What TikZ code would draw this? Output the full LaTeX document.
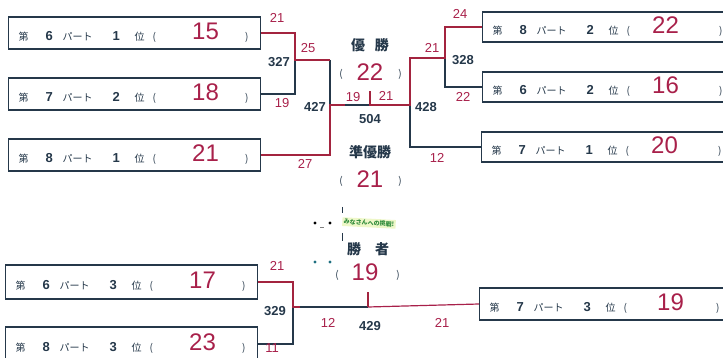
\documentclass[tikz,border=0pt]{standalone}
\usepackage{fontspec}
\newfontfamily\jp{Noto Sans CJK JP}
\newfontfamily\lab{Liberation Sans}
\definecolor{ink}{HTML}{25384A}
\definecolor{hand}{HTML}{A8204A}
\definecolor{win}{HTML}{A3243F}
\definecolor{lgreen}{HTML}{2E8B3A}
\definecolor{lbg}{HTML}{EEF7C8}
\definecolor{teal}{HTML}{1F6F80}
\newcommand\digf{\lab\bfseries\fontsize{13}{13}\selectfont}
\newcommand\handbig{\lab\fontsize{24}{24}\selectfont}
\newcommand\handsmall{\lab\fontsize{13}{13}\selectfont}
\newcommand\jpt[1]{{\jp\fontsize{10}{10}\selectfont #1}}
\newcommand\entry[4]{\makebox[252pt][l]{\hspace{10pt}\makebox[27pt][l]{\jpt{第}}\makebox[17pt][l]{\digf #2}\makebox[50pt][l]{\jpt{パート}}\makebox[22pt][l]{\digf #3}\makebox[18pt][l]{\jpt{位}}\makebox[#1][l]{\jpt{(}}\makebox[50pt][c]{\raisebox{1pt}{\color{hand}\handbig #4}}\hfill\jpt{)}\hspace{12pt}}}
\begin{document}
\begin{tikzpicture}[x=1pt,y=-1pt,
  entrybox/.style={draw=ink, line width=1.1pt, inner sep=0pt, minimum height=32pt, anchor=west, text=ink},
  wire/.style={draw=ink, line width=1.1pt},
  winner/.style={draw=win, line width=2.2pt},
  score/.style={text=hand, font=\handsmall, inner sep=0pt},
  code/.style={text=ink, font=\lab\bfseries\fontsize{13}{13}\selectfont, inner sep=0pt},
  title/.style={text=ink, font=\jp\bfseries\fontsize{14}{14}\selectfont, inner sep=0pt},
  paren/.style={text=ink, font=\jp\fontsize{10}{10}\selectfont, inner sep=0pt},
  bignum/.style={text=hand, font=\lab\fontsize{24}{24}\selectfont, inner sep=0pt}]
\useasboundingbox (0,0) rectangle (723,358);
\clip (0,0) rectangle (723,358);
% entry boxes
\node[entrybox] (b1) at (8,33) {\entry{28pt}{6}{1}{15}};
\node[entrybox] (b2) at (8,94) {\entry{28pt}{7}{2}{18}};
\node[entrybox] (b3) at (8,155) {\entry{28pt}{8}{1}{21}};
\node[entrybox, minimum height=30pt] (bA) at (482,27) {\entry{14pt}{8}{2}{22}};
\node[entrybox, minimum height=30pt] (bB) at (482,87) {\entry{14pt}{6}{2}{16}};
\node[entrybox, minimum height=30pt] (bC) at (481,147) {\entry{14pt}{7}{1}{20}};
\node[entrybox, minimum height=34pt] (bD) at (5,282) {\entry{28pt}{6}{3}{17}};
\node[entrybox, minimum height=34pt] (bE) at (5,344) {\entry{28pt}{8}{3}{23}};
\node[entrybox] (bF) at (479,304) {\entry{22pt}{7}{3}{19}};
% junction points
\coordinate (p327) at (295,60);
\coordinate (t427) at (330,60);
\coordinate (p427) at (330,105);
\coordinate (s504) at (345,105);
\coordinate (c504) at (370,105);
\coordinate (u504) at (370,91);
\coordinate (p428) at (410,105);
\coordinate (t428) at (410,58);
\coordinate (p328) at (445,58);
\coordinate (p329) at (293,307);
\coordinate (s429) at (300,307);
\coordinate (c429) at (368,307);
\coordinate (u429) at (368,292);
% upper left bracket
\draw[wire] (b2.east) -| (p327);
\draw[wire] (t427) -- (p427);
\draw[winner] (b1.east) -| (p327) -- (t427);
\draw[wire] (s504) -- (c504);
\draw[winner] (b3.east) -| (p427) -- (s504);
% upper right bracket
\draw[wire] (bB.west) -| (p328);
\draw[wire] (bC.west) -| (p428);
\draw[winner] (bA.west) -| (p328) -- (t428) -- (p428) -- (c504) -- (u504);
% lower bracket
\draw[wire] (bE.east) -| (p329);
\draw[wire] (s429) -- (c429);
\draw[winner] (bD.east) -| (p329) -- (s429);
\draw[draw=hand, line width=1.2pt] (bF.west) -- (c429);
\draw[winner] (c429) -- (u429);
% match codes
\node[code] (n327) at (279,62) {327};
\node[code] (n427) at (315,107) {427};
\node[code] (n504) at (370,119) {504};
\node[code] (n328) at (463,60) {328};
\node[code] (n428) at (426,107) {428};
\node[code] (n329) at (275,311) {329};
\node[code] (n429) at (370,326) {429};
% scores
\node[score] (s1) at (277,18) {21};
\node[score] (s2) at (308,48) {25};
\node[score] (s3) at (282,103) {19};
\node[score] (s4) at (305,164) {27};
\node[score] (s5) at (353,97) {19};
\node[score] (s6) at (386,96) {21};
\node[score] (s7) at (460,14) {24};
\node[score] (s8) at (432,48) {21};
\node[score] (s9) at (463,97) {22};
\node[score] (s10) at (437,158) {12};
\node[score] (s11) at (277,266) {21};
\node[score] (s12) at (272,348) {11};
\node[score] (s13) at (328,323) {12};
\node[score] (s14) at (442,323) {21};
% titles
\node[title] (tw) at (370,45) {優\hspace{10pt}勝};
\node[paren] (tw1) at (341,74) {(};
\node[bignum] (tw2) at (370,72) {22};
\node[paren] (tw3) at (400,74) {)};
\node[title] (tr) at (370,152) {準優勝};
\node[paren] (tr1) at (341,181) {(};
\node[bignum] (tr2) at (370,179) {21};
\node[paren] (tr3) at (400,181) {)};
\node[title] (tk) at (368,249) {勝\hspace{14pt}者};
\node[paren] (tk1) at (337,275) {(};
\node[bignum] (tk2) at (365,272) {19};
\node[paren] (tk3) at (398,275) {)};
\node[fill=lbg, text=lgreen, font=\jp\bfseries\fontsize{6}{6}\selectfont, inner sep=1.5pt, rotate=-3] (msg) at (369,223) {みなさんへの挑戦!};
% small marks
\fill[black] (315,223) circle (1.7pt);
\fill[black] (330,223) circle (1.7pt);
\draw[gray, line width=0.6pt] (320,227) -- (324,227);
\fill[teal] (315,262) circle (1.7pt);
\fill[teal] (330,262) circle (1.7pt);
\draw[ink, line width=0.8pt] (342,207) -- (342,213);
\draw[ink, line width=0.8pt] (342,233) -- (342,241);
\end{tikzpicture}
\end{document}
